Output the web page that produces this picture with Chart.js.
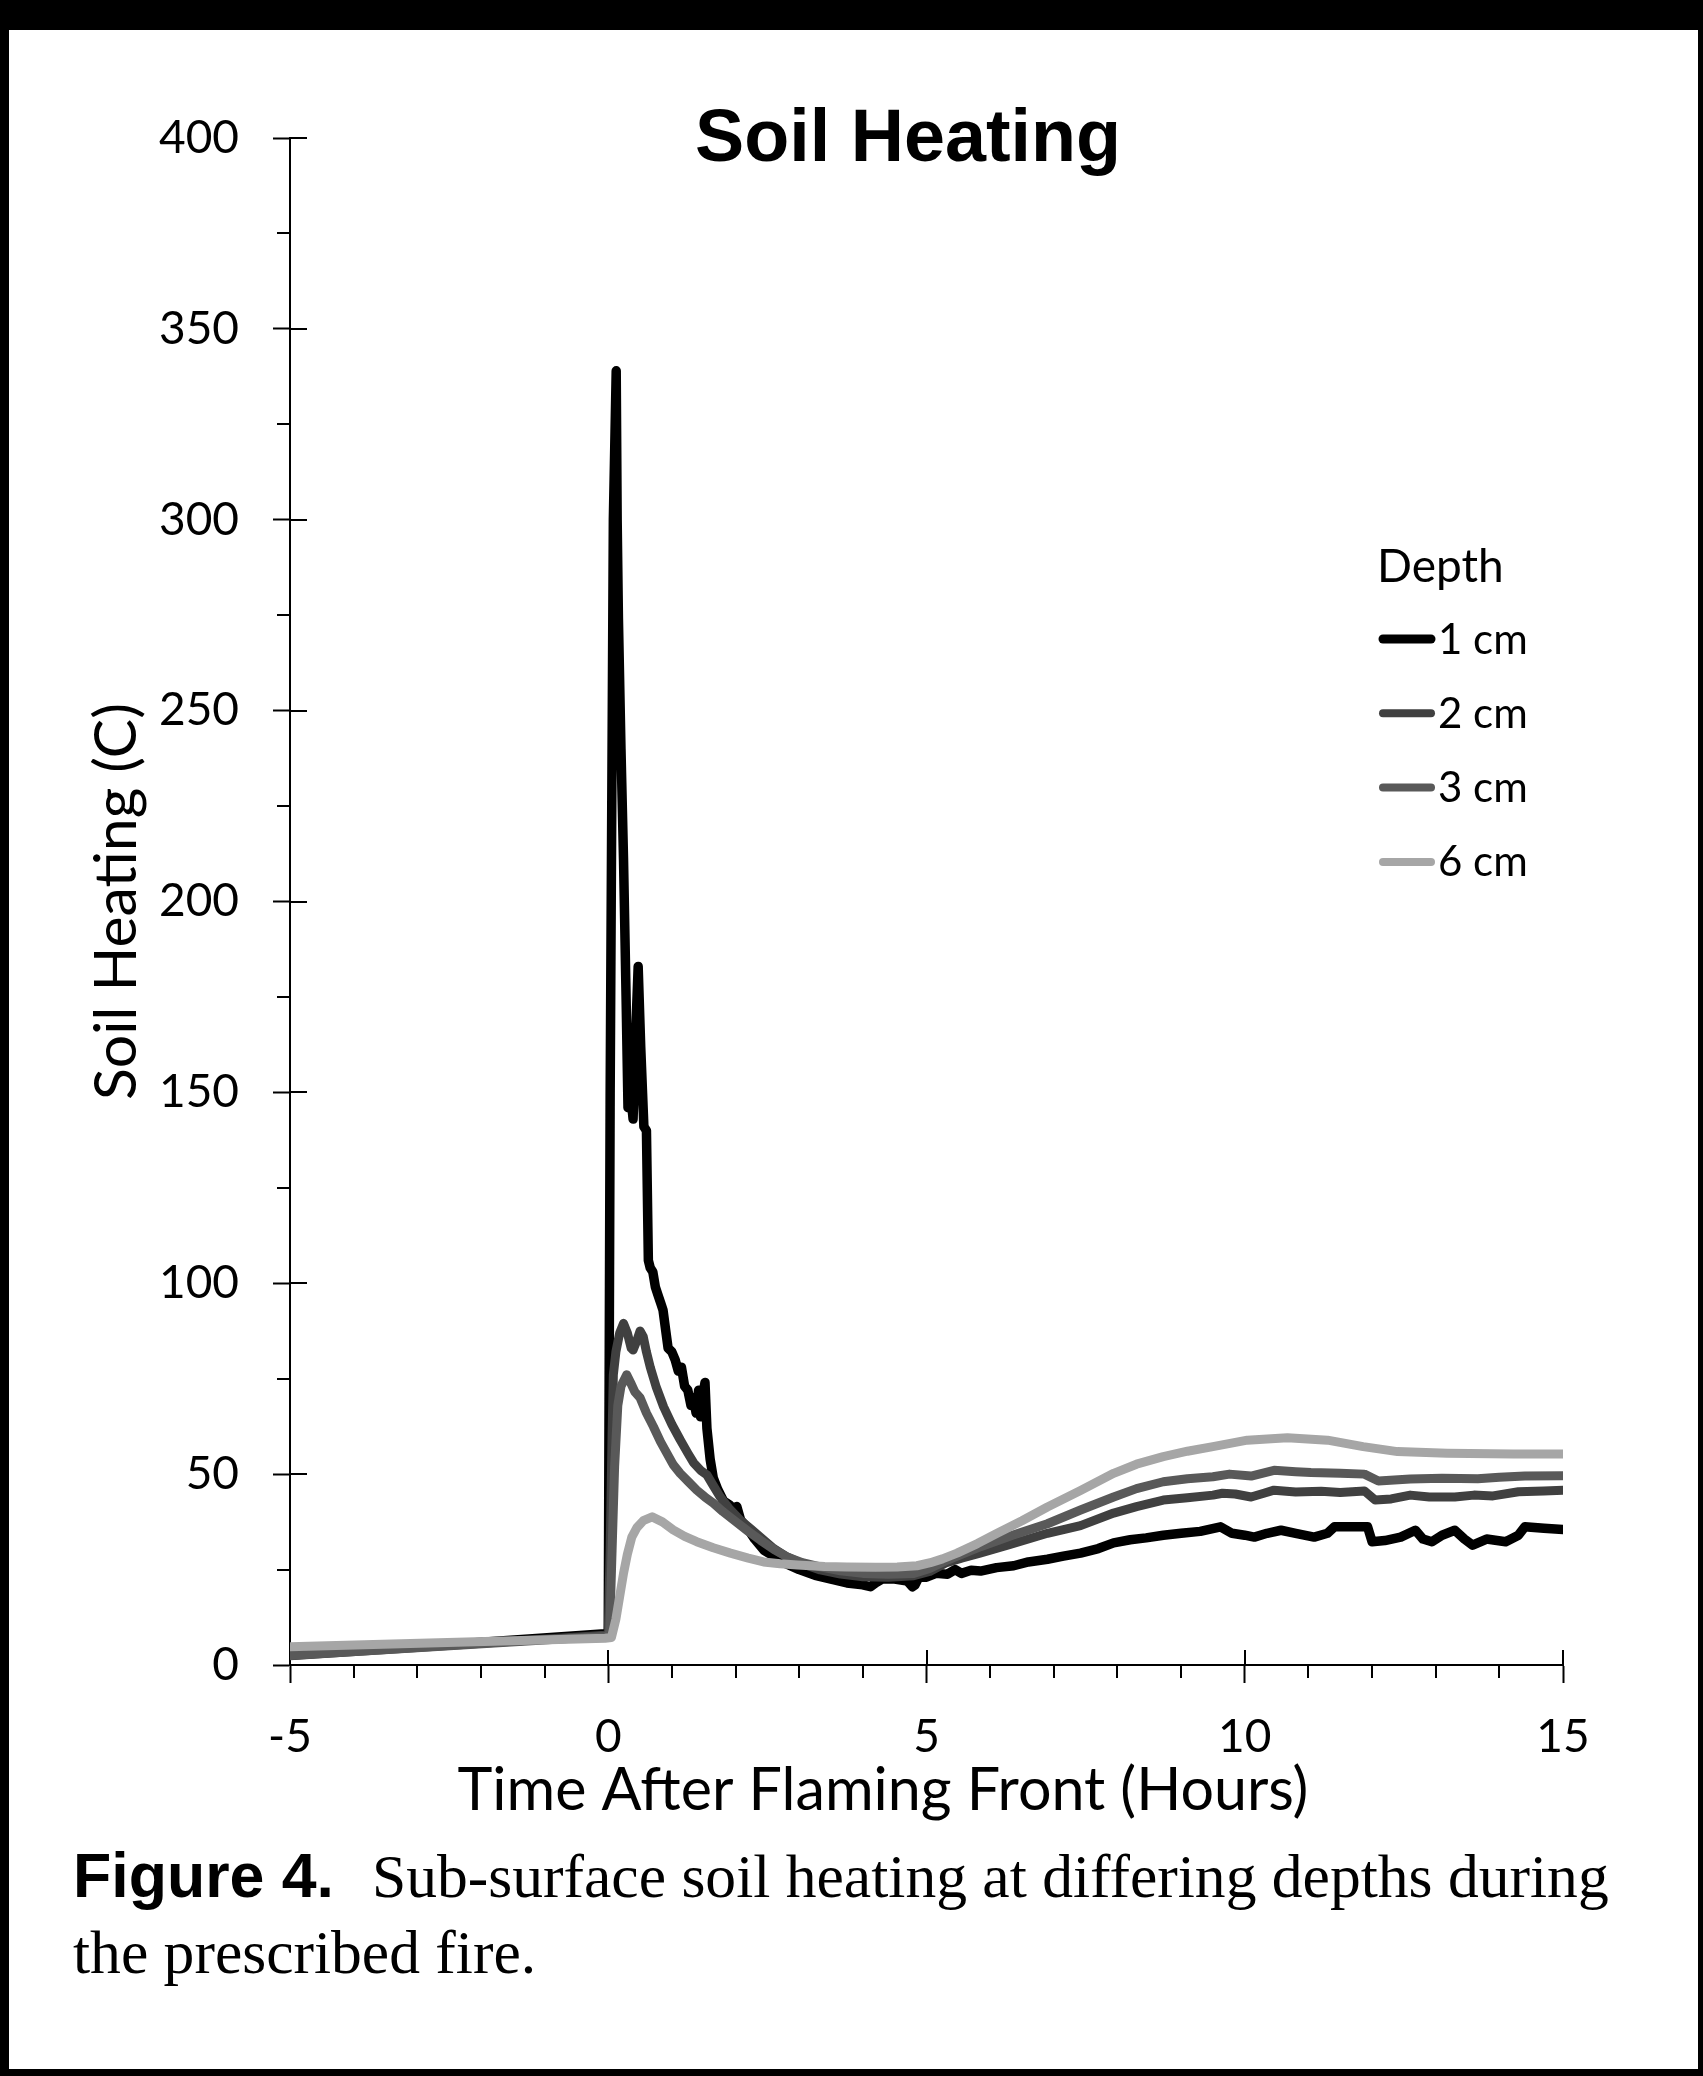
<!DOCTYPE html>
<html>
<head>
<meta charset="utf-8">
<title>Soil Heating</title>
<script src="https://cdn.jsdelivr.net/npm/chart.js@4.4.1/dist/chart.umd.min.js"></script>
<style>
  html, body { margin: 0; padding: 0; background: #000; }
  #frame { position: absolute; left: 9px; top: 30px; width: 1689px; height: 2039px; background: #fff; }
  canvas { display: block; }
</style>
</head>
<body>
<div id="frame"><canvas id="chart-area" width="1689" height="2039"></canvas></div>
<script>
"use strict";

// [hours after flaming front, soil temperature in C]
const SERIES_1CM = [
  [-5, 2.6], [-2.5, 5.4], [-0.05, 8.2], [0, 8.5], [0.03, 150], [0.08, 300],
  [0.125, 339], [0.14, 300], [0.16, 274], [0.2, 240], [0.24, 211], [0.28, 175],
  [0.31, 146], [0.35, 150], [0.39, 143], [0.43, 165], [0.47, 183], [0.51, 162],
  [0.56, 141], [0.6, 140], [0.63, 106], [0.66, 104], [0.7, 103], [0.74, 99],
  [0.78, 97], [0.82, 95], [0.86, 93], [0.9, 88], [0.94, 83], [1.0, 82],
  [1.05, 80], [1.1, 77], [1.15, 78], [1.2, 73], [1.25, 72], [1.3, 68],
  [1.34, 70], [1.38, 66], [1.42, 72], [1.45, 65], [1.48, 70], [1.52, 74],
  [1.55, 62], [1.6, 54], [1.65, 49], [1.72, 46], [1.81, 43], [1.9, 42],
  [1.96, 41], [2.02, 41.5], [2.08, 38], [2.18, 36], [2.3, 33], [2.45, 30],
  [2.6, 28.5], [2.8, 26.5], [3.0, 25], [3.25, 23.5], [3.5, 22.5], [3.75, 21.5],
  [4.0, 21], [4.12, 20.5], [4.2, 21.5], [4.3, 22.5], [4.5, 22.5], [4.7, 22],
  [4.78, 20.5], [4.82, 21], [4.88, 23], [5.0, 23], [5.15, 24], [5.33, 23.8],
  [5.45, 25], [5.55, 24], [5.7, 24.8], [5.85, 24.6], [6.1, 25.5], [6.37, 26],
  [6.6, 27], [6.9, 27.7], [7.15, 28.5], [7.42, 29.3], [7.7, 30.5], [7.94, 32],
  [8.2, 32.8], [8.45, 33.3], [8.72, 34], [9.0, 34.5], [9.3, 35], [9.62, 36.2],
  [9.8, 34.5], [10.0, 34], [10.15, 33.5], [10.35, 34.5], [10.57, 35.3], [10.8, 34.5],
  [11.09, 33.5], [11.3, 34.5], [11.41, 36.2], [11.7, 36.2], [11.93, 36.2], [12.0, 32.3],
  [12.2, 32.6], [12.45, 33.5], [12.68, 35.3], [12.8, 33], [12.94, 32.3], [13.1, 34],
  [13.3, 35.3], [13.45, 33], [13.58, 31.4], [13.8, 33], [14.1, 32.3], [14.3, 34],
  [14.4, 36.2], [14.7, 35.8], [15, 35.5]
];

const SERIES_2CM = [
  [-5, 2.4], [-0.05, 7.8], [0, 8], [0.03, 30], [0.06, 60], [0.08, 76],
  [0.12, 82], [0.18, 87], [0.24, 89.5], [0.3, 87], [0.36, 83], [0.39, 82.5],
  [0.45, 85], [0.5, 87.5], [0.55, 86], [0.6, 82], [0.66, 78], [0.75, 73],
  [0.87, 67.6], [1.0, 63], [1.13, 59], [1.25, 55.5], [1.34, 53], [1.45, 51],
  [1.55, 49.8], [1.65, 47], [1.76, 44], [1.9, 41], [2.07, 38], [2.25, 35.5],
  [2.39, 33.5], [2.6, 30.5], [2.81, 28.3], [3.05, 26.5], [3.33, 24.9], [3.65, 23.8],
  [4.0, 23.1], [4.4, 23], [4.8, 23.4], [5.05, 24.5], [5.3, 26.7], [5.55, 28],
  [5.84, 29.3], [6.3, 31.5], [6.9, 34.5], [7.42, 36.5], [7.94, 39.8], [8.3, 41.5],
  [8.72, 43.2], [9.1, 43.8], [9.5, 44.5], [9.65, 45], [9.85, 44.8], [10.1, 44],
  [10.3, 45], [10.46, 45.8], [10.8, 45.3], [11.2, 45.5], [11.5, 45.2], [11.88, 45.6],
  [12.05, 43.2], [12.3, 43.5], [12.6, 44.5], [12.9, 44], [13.3, 44], [13.6, 44.5],
  [13.9, 44.3], [14.3, 45.4], [14.7, 45.6], [15, 45.8]
];

const SERIES_3CM = [
  [-5, 2.5], [-0.05, 7.5], [0.02, 8], [0.06, 30], [0.1, 52], [0.15, 68],
  [0.2, 73], [0.29, 76], [0.35, 74], [0.42, 71.5], [0.5, 70], [0.6, 66],
  [0.71, 62.4], [0.82, 58.5], [0.92, 55.5], [1.02, 52.5], [1.13, 50.2], [1.26, 48],
  [1.39, 45.8], [1.52, 44], [1.65, 42.4], [1.8, 40.2], [1.97, 38], [2.2, 35],
  [2.39, 32.7], [2.6, 30.3], [2.81, 28.3], [3.05, 26.8], [3.33, 25.7], [3.65, 24.7],
  [4.0, 24], [4.4, 23.8], [4.8, 24], [5.05, 25.3], [5.33, 27.5], [5.6, 29.3],
  [5.85, 31], [6.35, 34], [6.9, 37], [7.42, 40.6], [7.94, 44], [8.3, 46.2],
  [8.72, 48], [9.1, 48.8], [9.5, 49.3], [9.76, 50], [10.1, 49.5], [10.46, 51],
  [10.8, 50.6], [11.04, 50.4], [11.5, 50.2], [11.88, 50], [12.1, 48.2], [12.6, 48.7],
  [13.1, 48.9], [13.66, 48.8], [14.0, 49.2], [14.4, 49.5], [15, 49.6]
];

const SERIES_6CM = [
  [-5, 4.8], [-0.05, 7.0], [0.05, 7.2], [0.12, 12], [0.18, 18], [0.24, 24],
  [0.3, 29], [0.37, 33.5], [0.45, 36], [0.55, 37.8], [0.69, 38.8], [0.85, 37.5],
  [1.02, 35.4], [1.2, 33.7], [1.39, 32.3], [1.65, 30.7], [1.92, 29.3], [2.2, 28],
  [2.44, 27], [2.7, 26.5], [2.97, 26.2], [3.4, 25.8], [3.75, 25.7], [4.2, 25.6],
  [4.54, 25.7], [4.85, 26], [5.06, 26.8], [5.25, 27.8], [5.48, 29.3], [5.8, 31.8],
  [6.11, 34.5], [6.5, 37.8], [6.9, 41.4], [7.42, 45.7], [7.94, 50.2], [8.3, 52.6],
  [8.72, 54.6], [9.1, 56], [9.5, 57.2], [10.04, 58.9], [10.67, 59.5], [11.3, 58.9],
  [11.86, 57.2], [12.4, 55.9], [13.18, 55.5], [14.22, 55.3], [15, 55.3]
];

const DEPTH_LABELS = ["1 cm", "2 cm", "3 cm", "6 cm"];
const DEPTH_COLORS = ["#000000", "#404040", "#595959", "#a6a6a6"];

const X_MIN = -5, X_MAX = 15, X_MAJOR = 5, X_MINOR = 1;
const Y_MIN = 0, Y_MAX = 400, Y_MAJOR = 50, Y_MINOR = 25;

const TITLE = "Soil Heating";
const X_TITLE = "Time After Flaming Front (Hours)";
const Y_TITLE = "Soil Heating (C)";
const LEGEND_TITLE = "Depth";
const CAPTION_BOLD = "Figure 4.";
const CAPTION_LINE1 = "Sub-surface soil heating at differing depths during";
const CAPTION_LINE2 = "the prescribed fire.";

const SANS = "Lato";

// font size that makes a string a given width
function fitSize(text, font, width) {
  const c = document.createElement("canvas").getContext("2d");
  c.font = font.replace("SIZE", "100px");
  return 100 * width / c.measureText(text).width;
}

const titleSize = fitSize(TITLE, 'bold SIZE "Liberation Sans"', 426);
const xTitleSize = fitSize(X_TITLE, 'SIZE ' + SANS, 851);
const yTitleSize = fitSize(Y_TITLE, 'SIZE ' + SANS, 397);
const boldSize = fitSize(CAPTION_BOLD, 'bold SIZE "Liberation Sans"', 261);
const serifSize = fitSize(CAPTION_LINE1, 'SIZE "Liberation Serif"', 1237);

const PAD_LEFT = 20;
const Y_AXIS_WIDTH = 261;

function toPoints(series) {
  return series.map(function(p) { return {x: p[0], y: p[1]}; });
}

const axisTicks = {
  id: "axisTicks",
  beforeDatasetsDraw(chart) {
    const ctx = chart.ctx;
    const xs = chart.scales.x, ys = chart.scales.y;
    const left = chart.chartArea.left, bottom = chart.chartArea.bottom;
    ctx.save();
    ctx.strokeStyle = "#000";
    ctx.lineWidth = 2;
    ctx.beginPath();
    for (let v = Y_MIN; v <= Y_MAX; v += Y_MINOR) {
      const py = Math.round(ys.getPixelForValue(v));
      if (v % Y_MAJOR === 0) {
        ctx.moveTo(left, py); ctx.lineTo(left + 17, py);
      } else {
        ctx.moveTo(left - 13, py); ctx.lineTo(left, py);
      }
    }
    for (let v = X_MIN; v <= X_MAX; v += X_MINOR) {
      const px = Math.round(xs.getPixelForValue(v));
      if (v % X_MAJOR === 0) {
        ctx.moveTo(px, bottom); ctx.lineTo(px, bottom - 15);
      } else {
        ctx.moveTo(px, bottom); ctx.lineTo(px, bottom + 13);
      }
    }
    ctx.stroke();
    ctx.restore();
  }
};

const depthLegend = {
  id: "depthLegend",
  afterDraw(chart) {
    const ctx = chart.ctx;
    ctx.save();
    ctx.fillStyle = "#000";
    ctx.textAlign = "left";
    ctx.textBaseline = "alphabetic";
    ctx.font = "46px " + SANS;
    ctx.fillText(LEGEND_TITLE, 1368, 552);
    ctx.font = "42px " + SANS;
    ctx.textBaseline = "middle";
    ctx.lineCap = "round";
    chart.data.datasets.forEach(function(ds, i) {
      const y = 609 + i * 74.3;
      ctx.strokeStyle = ds.borderColor;
      ctx.lineWidth = i === 0 ? 9 : 8;
      ctx.beginPath();
      ctx.moveTo(1374, y);
      ctx.lineTo(1422, y);
      ctx.stroke();
      ctx.fillText(ds.label, 1429, y + 1);
    });
    ctx.restore();
  }
};

const figureText = {
  id: "figureText",
  afterDraw(chart) {
    const ctx = chart.ctx;
    ctx.save();
    ctx.fillStyle = "#000";
    ctx.textBaseline = "alphabetic";
    ctx.textAlign = "center";
    ctx.font = 'bold ' + titleSize + 'px "Liberation Sans"';
    ctx.fillText(TITLE, 899, 131);
    ctx.font = xTitleSize + "px " + SANS;
    ctx.fillText(X_TITLE, 874, 1780);
    ctx.textAlign = "left";
    ctx.font = 'bold ' + boldSize + 'px "Liberation Sans"';
    ctx.fillText(CAPTION_BOLD, 64, 1867);
    ctx.font = serifSize + 'px "Liberation Serif"';
    ctx.fillText(CAPTION_LINE1, 363, 1867);
    ctx.fillText(CAPTION_LINE2, 64, 1943);
    ctx.restore();
  }
};

const datasets = [SERIES_1CM, SERIES_2CM, SERIES_3CM, SERIES_6CM].map(function(s, i) {
  return {
    label: DEPTH_LABELS[i],
    data: toPoints(s),
    borderColor: DEPTH_COLORS[i],
    borderWidth: i === 0 ? 9.5 : 9,
    pointRadius: 0,
    tension: 0,
    fill: false,
    borderJoinStyle: "round",
    borderCapStyle: "round",
    order: 4 - i
  };
});

const config = {
  type: "line",
  data: { datasets: datasets },
  options: {
    responsive: false,
    animation: false,
    events: [],
    layout: {
      padding: { left: PAD_LEFT, right: 135, top: 108, bottom: 254 }
    },
    plugins: {
      legend: { display: false },
      title: { display: false },
      tooltip: { enabled: false }
    },
    scales: {
      x: {
        type: "linear",
        min: X_MIN,
        max: X_MAX,
        afterFit: function(scale) { scale.height = 150; },
        border: { color: "#000", width: 2 },
        grid: { drawOnChartArea: false, tickLength: 18, tickColor: "#000", tickWidth: 2 },
        ticks: {
          stepSize: X_MAJOR,
          padding: 27,
          color: "#000",
          font: { family: SANS, size: 46 },
          maxRotation: 0
        }
      },
      y: {
        min: Y_MIN,
        max: Y_MAX,
        afterFit: function(scale) { scale.width = Y_AXIS_WIDTH; },
        border: { color: "#000", width: 2 },
        grid: { drawOnChartArea: false, tickLength: 17, tickColor: "#000", tickWidth: 2 },
        ticks: {
          stepSize: Y_MAJOR,
          padding: 34,
          color: "#000",
          font: { family: SANS, size: 46 }
        },
        title: {
          display: true,
          text: Y_TITLE,
          color: "#000",
          font: { family: SANS, size: yTitleSize },
          padding: { top: 108 - PAD_LEFT - yTitleSize * 0.6, bottom: 0 }
        }
      }
    }
  },
  plugins: [axisTicks, depthLegend, figureText]
};

window.onload = function() {
  const ctx = document.getElementById("chart-area").getContext("2d");
  window.soilChart = new Chart(ctx, config);
};
</script>
</body>
</html>
